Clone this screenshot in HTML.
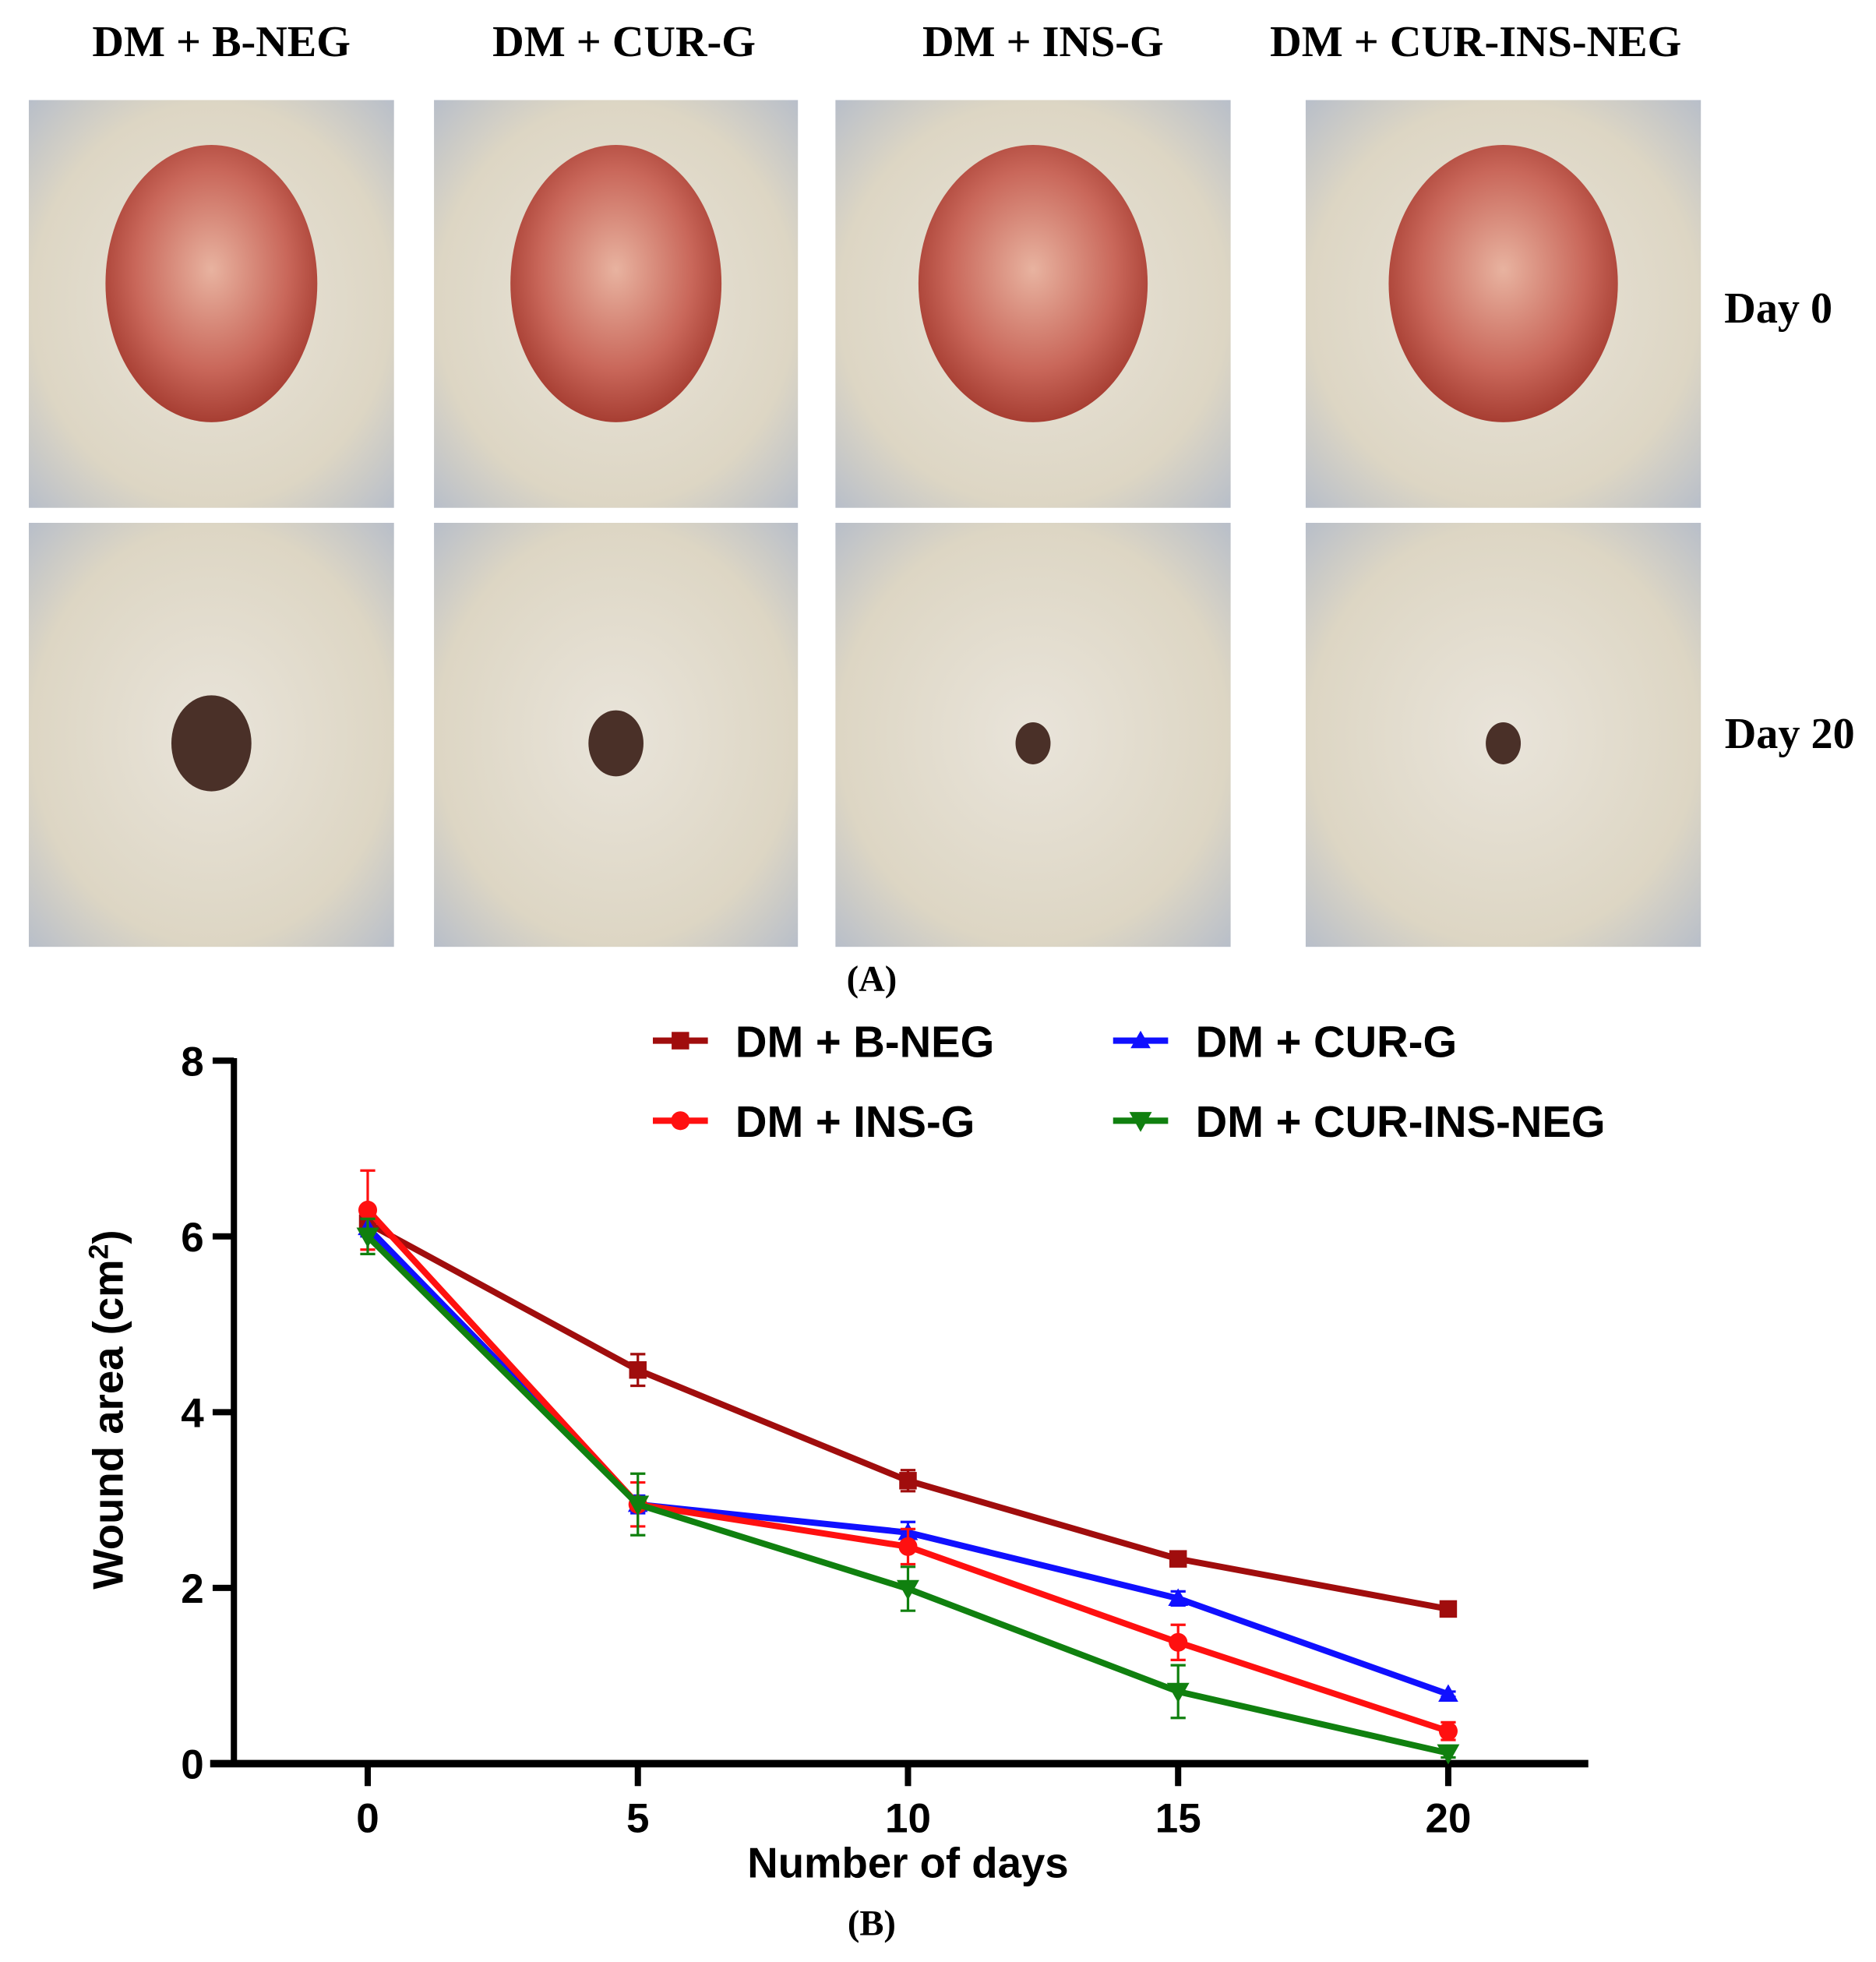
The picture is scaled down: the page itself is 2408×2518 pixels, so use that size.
<!DOCTYPE html>
<html><head><meta charset="utf-8"><style>body{margin:0;background:#fff}svg{display:block}</style></head>
<body>
<svg id="fig" width="2408" height="2518" viewBox="0 0 1500 1568.6" xmlns="http://www.w3.org/2000/svg" font-family="Liberation Sans, sans-serif">
<defs>
<radialGradient id="fur" cx="50%" cy="50%" r="70%"><stop offset="0" stop-color="#e9e4da"/><stop offset="0.7" stop-color="#ddd6c4"/><stop offset="1" stop-color="#b9bfc9"/></radialGradient>
<radialGradient id="wound" cx="50%" cy="45%" r="60%"><stop offset="0" stop-color="#e8b3a0"/><stop offset="0.6" stop-color="#c9675a"/><stop offset="1" stop-color="#9e3328"/></radialGradient>
</defs>
<g id="photos"></g>
<g font-family="Liberation Serif, serif" font-weight="bold" font-size="35" text-anchor="middle">
<text x="177" y="45">DM + B-NEG</text>
<text x="499" y="45">DM + CUR-G</text>
<text x="834" y="45">DM + INS-G</text>
<text x="1180" y="45">DM + CUR-INS-NEG</text>
<text x="1422" y="258">Day 0</text>
<text x="1431" y="598">Day 20</text>
<text x="697" y="792" font-size="29">(A)</text>
<text x="697" y="1547" font-size="29">(B)</text>
</g>
<g id="chart"></g>
</svg>
<script>
const days = [0, 5, 10, 15, 20];
const yTicks = [0, 2, 4, 6, 8];
const seriesNames = ["DM + B-NEG", "DM + CUR-G", "DM + INS-G", "DM + CUR-INS-NEG"];
const bNeg = [6.15, 4.48, 3.22, 2.33, 1.76];
const bNegErr = [0.1, 0.18, 0.12, 0.05, 0.06];
const curG = [6.1, 2.95, 2.63, 1.88, 0.79];
const curGErr = [0.1, 0.1, 0.12, 0.08, 0.03];
const insG = [6.3, 2.95, 2.47, 1.38, 0.37];
const insGErr = [0.45, 0.25, 0.2, 0.2, 0.1];
const curIns = [6.0, 2.95, 1.99, 0.82, 0.12];
const curInsErr = [0.2, 0.35, 0.25, 0.3, 0.05];

const NS = "http://www.w3.org/2000/svg";
function mk(tag, attrs, parent){const e=document.createElementNS(NS,tag);for(const k in attrs)e.setAttribute(k,attrs[k]);parent.appendChild(e);return e;}

const ph = document.getElementById('photos');
const cols = [[23,292],[347,291],[668,316],[1044,316]];
const rows = [[80,326],[418,339]];
cols.forEach((c,i)=>{rows.forEach((r,j)=>{
  const g = mk('g',{},ph);
  
  
  mk('rect',{x:c[0],y:r[0],width:c[1],height:r[1],fill:'url(#fur)'},g);
  const cx=c[0]+c[1]/2, cy=r[0]+r[1]*(j?0.52:0.45);
  if(j===0){ mk('ellipse',{cx:cx,cy:cy,rx:c[1]*0.29,ry:r[1]*0.34,fill:'url(#wound)'},g); }
  else { const s=[32,22,14,14][i]; mk('ellipse',{cx:cx,cy:cy,rx:s,ry:s*1.2,fill:'#4a3028'},g); }
});});

const ch = document.getElementById('chart');
const xS = d => 294 + d/20*(1158-294);
const yS = v => 1410 - v/8*(1410-848);
mk('line',{x1:187,y1:846,x2:187,y2:1412,stroke:'#000','stroke-width':5},ch);
mk('line',{x1:168,y1:1410,x2:1270,y2:1410,stroke:'#000','stroke-width':6},ch);
yTicks.forEach(t=>{
  const l=mk('line',{x1:170,y1:yS(t),x2:187,y2:yS(t),stroke:'#000','stroke-width':5},ch);
  
  
  const tx=mk('text',{x:163,y:yS(t)+12,'text-anchor':'end','font-size':33,'font-weight':'bold'},ch);
  
  
  tx.textContent=t;
});
days.forEach(d=>{
  const l=mk('line',{x1:xS(d),y1:1410,x2:xS(d),y2:1428,stroke:'#000','stroke-width':5},ch);
  
  
  const tx=mk('text',{x:xS(d),y:1465,'text-anchor':'middle','font-size':33,'font-weight':'bold'},ch);
  
  
  tx.textContent=d;
});
const xt=mk('text',{x:726,y:1501,'text-anchor':'middle','font-size':34,'font-weight':'bold'},ch);


xt.textContent='Number of days';
const yt=mk('text',{x:0,y:0,'text-anchor':'middle','font-size':34,'font-weight':'bold',transform:'translate(98,1127) rotate(-90)'},ch);


yt.innerHTML='Wound area (cm<tspan baseline-shift="super" font-size="22">2</tspan>)';

const series=[[bNeg,bNegErr,'#a00d0d','sq'],[curG,curGErr,'#1010ff','tri'],[insG,insGErr,'#ff1010','circ'],[curIns,curInsErr,'#10800f','dtri']];
function marker(kind,x,y,col,g){
  if(kind==='sq') return mk('rect',{x:x-7,y:y-7,width:14,height:14,fill:col},g);
  if(kind==='circ') return mk('circle',{cx:x,cy:y,r:7.5,fill:col},g);
  if(kind==='tri') return mk('polygon',{points:`${x},${y-8} ${x-8},${y+6} ${x+8},${y+6}`,fill:col},g);
  return mk('polygon',{points:`${x},${y+9} ${x-9},${y-7} ${x+9},${y-7}`,fill:col},g);
}
series.forEach((s,si)=>{
  const g=mk('g',{},ch);
  
  
  s[0].forEach((v,i)=>{const x=xS(days[i]),e=s[1][i];
    mk('line',{x1:x,y1:yS(v-e),x2:x,y2:yS(v+e),stroke:s[2],'stroke-width':2},g);
    mk('line',{x1:x-6,y1:yS(v-e),x2:x+6,y2:yS(v-e),stroke:s[2],'stroke-width':2},g);
    mk('line',{x1:x-6,y1:yS(v+e),x2:x+6,y2:yS(v+e),stroke:s[2],'stroke-width':2},g);
  });
  const p=mk('polyline',{points:s[0].map((v,i)=>xS(days[i])+','+yS(v)).join(' '),fill:'none',stroke:s[2],'stroke-width':5,'stroke-linejoin':'round'},g);
  
  
  s[0].forEach((v,i)=>{const m=marker(s[3],xS(days[i]),yS(v),s[2],g);
    
    });
});
const lp=[[522,832],[890,832],[522,896],[890,896]];
[0,1,2,3].forEach((si,k)=>{
  const s=series[si],[lx,ly]=lp[k];
  const g=mk('g',{},ch);
  
  
  mk('line',{x1:lx,y1:ly,x2:lx+44,y2:ly,stroke:s[2],'stroke-width':5},g);
  marker(s[3],lx+22,ly,s[2],g);
  const t=mk('text',{x:lx+66,y:ly+13,'font-size':35,'font-weight':'bold'},g);
  t.textContent=seriesNames[si];
});
</script>
</body></html>
